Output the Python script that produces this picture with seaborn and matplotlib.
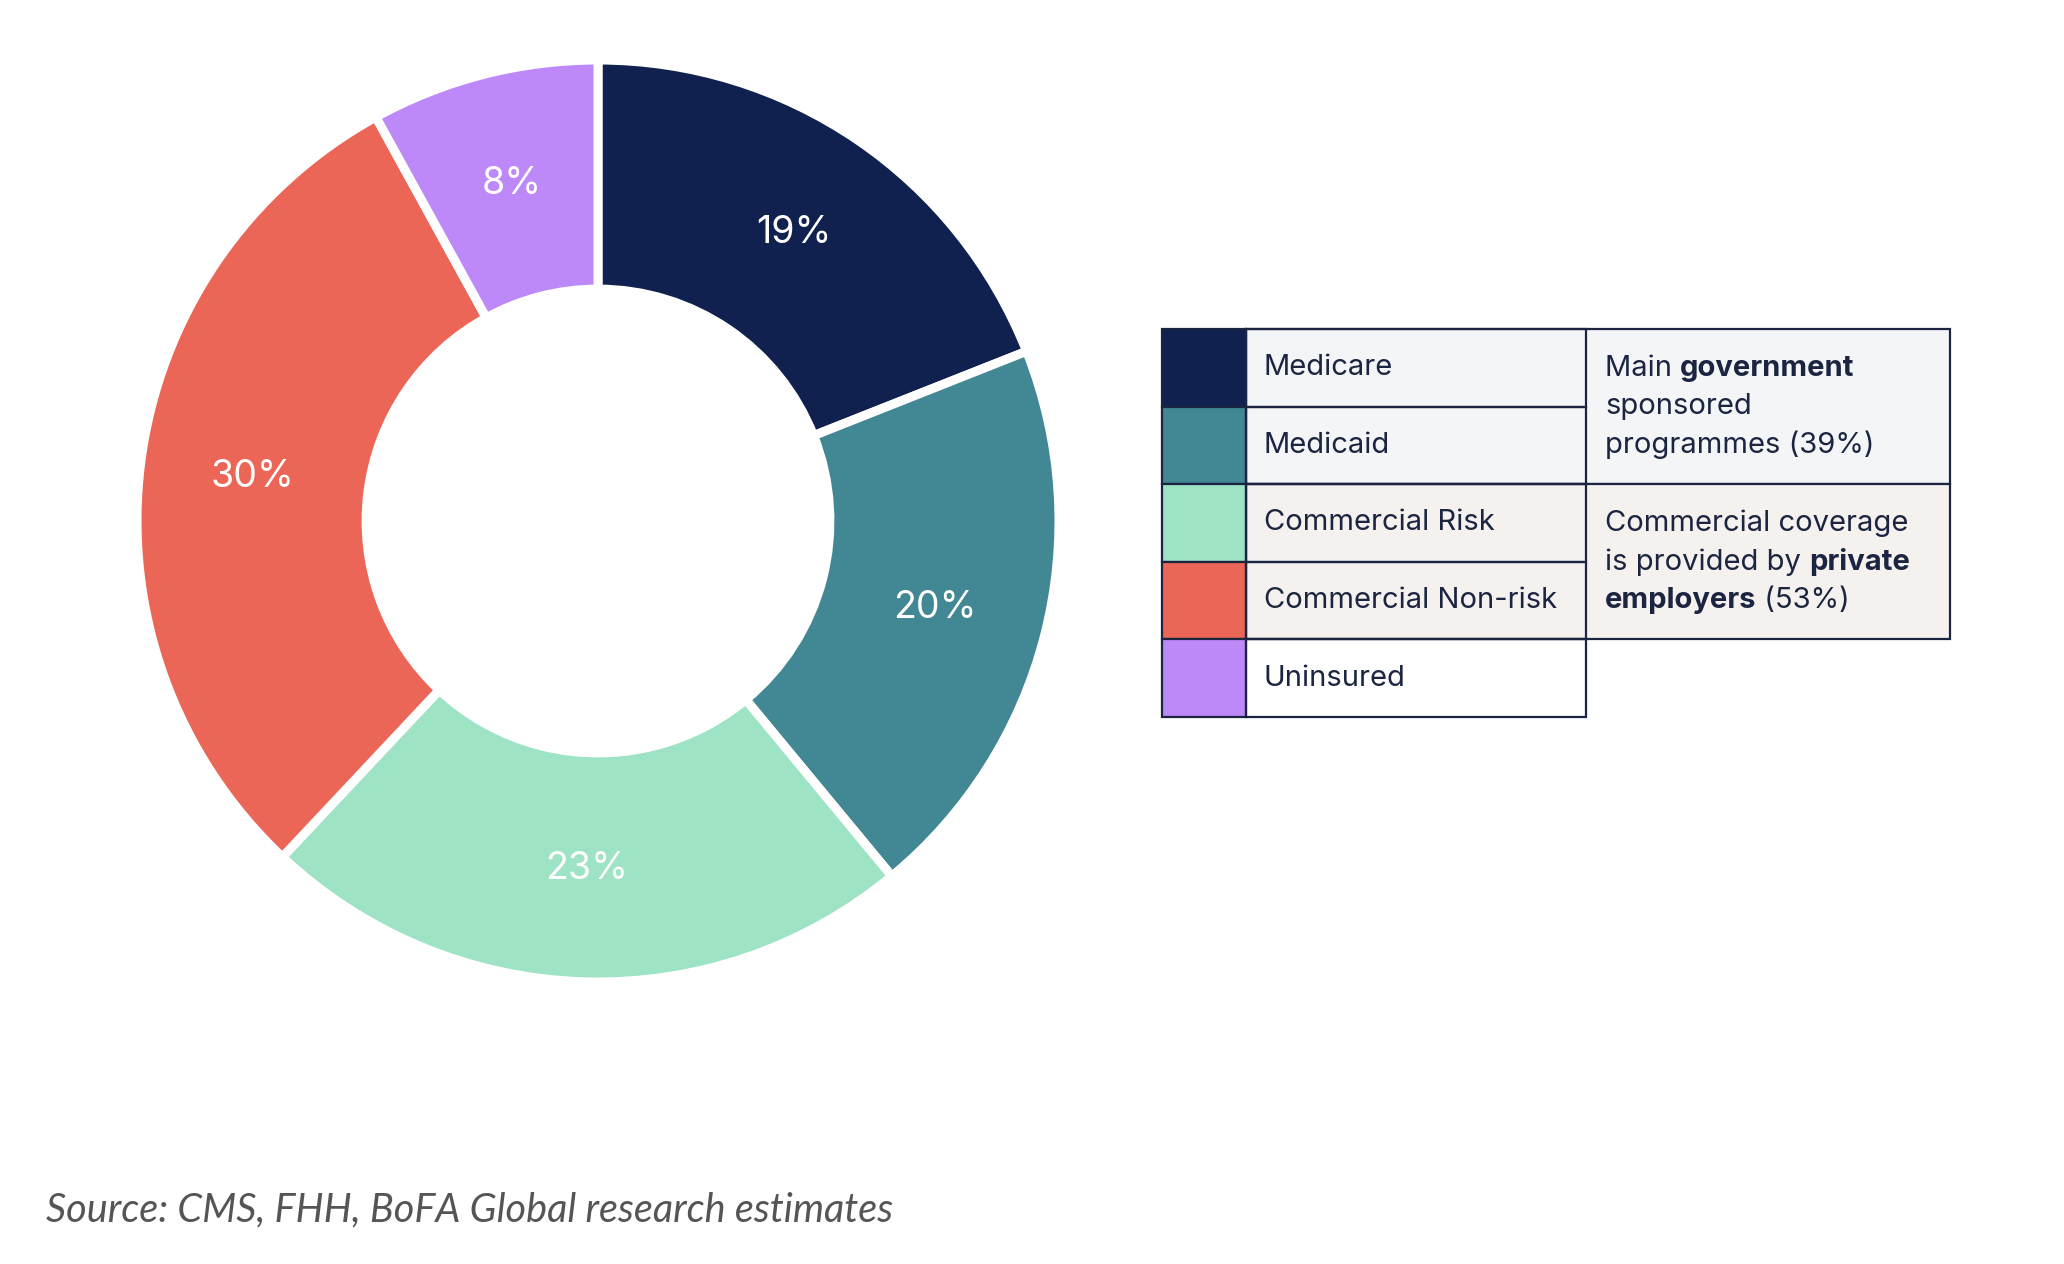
import matplotlib
matplotlib.use("Agg")
import matplotlib.pyplot as plt
import seaborn as sns
from matplotlib.patches import Rectangle

# data
segments = ["Medicare", "Medicaid", "Commercial Risk", "Commercial Non-risk", "Uninsured"]
shares = [19, 20, 23, 30, 8]
seg_colors = ["#10214F", "#418794", "#9DE3C4", "#EB6657", "#BD88F7"]
group_rows = [(0, 2), (2, 4)]
group_bg = ["#F3F5F7", "#F4F1EE"]
source = "Source: CMS, FHH, BoFA Global research estimates"

sns.set_theme(style="white")
plt.rcParams["font.family"] = ["Inter", "DejaVu Sans"]
ink = "#1B2541"

W, H = 2064, 1264
fig = plt.figure(figsize=(W / 100, H / 100), dpi=100)

# donut
cx, cy, r = 598, 521, 461
ax = fig.add_axes([(cx - r) / W, (H - cy - r) / H, 2 * r / W, 2 * r / H])
palette = sns.color_palette(seg_colors)
wedges, _, autotexts = ax.pie(
    shares, colors=palette, startangle=90, counterclock=False,
    autopct=lambda p: f"{p:.0f}%", pctdistance=0.755, radius=1,
    wedgeprops=dict(width=0.497, edgecolor="white", linewidth=6.5),
    textprops=dict(color="white", fontsize=27))
ax.set_xlim(-1, 1)
ax.set_ylim(-1, 1)
ax.set_aspect("equal")
ax.axis("off")

# table / legend on an overlay in pixel space
ov = fig.add_axes([0, 0, 1, 1])
ov.set_xlim(0, W)
ov.set_ylim(H, 0)
ov.axis("off")

x0, x1, x2, x3 = 1162, 1246, 1586, 1950
top, rh = 329, 77.6
lw = 1.6
fs = 21

for (a, b), bg in zip(group_rows, group_bg):
    ov.add_patch(Rectangle((x1, top + a * rh), x3 - x1, (b - a) * rh,
                           facecolor=bg, edgecolor=ink, linewidth=lw))

for i, (name, col) in enumerate(zip(segments, seg_colors)):
    y = top + i * rh
    ov.add_patch(Rectangle((x0, y), x1 - x0, rh, facecolor=col, edgecolor=ink, linewidth=lw))
    ov.add_patch(Rectangle((x1, y), x2 - x1, rh, facecolor="none", edgecolor=ink, linewidth=lw))
    ov.text(1264, y + rh / 2, name, fontsize=fs, color=ink, va="center", ha="left")


def rich_line(x, y, parts):
    prev = None
    for txt, bold in parts:
        w = "bold" if bold else "normal"
        if prev is None:
            prev = ov.text(x, y, txt, fontsize=fs, color=ink, va="center", ha="left", fontweight=w)
        else:
            prev = ov.annotate(txt, xy=(1, 0.5), xycoords=prev, fontsize=fs, color=ink,
                               va="center", ha="left", fontweight=w)


gap = 38.5
c1 = top + rh
rich_line(1605, c1 - gap, [("Main ", False), ("government", True)])
rich_line(1605, c1, [("sponsored", False)])
rich_line(1605, c1 + gap, [("programmes (39%)", False)])

c2 = top + 3 * rh
rich_line(1605, c2 - gap, [("Commercial coverage", False)])
rich_line(1605, c2, [("is provided by ", False), ("private", True)])
rich_line(1605, c2 + gap, [("employers", True), (" (53%)", False)])

ov.text(46, 1210, source, fontsize=28.5, color="#555555", style="italic", va="center", ha="left",
        family=["Lato", "DejaVu Sans"])

fig.savefig("out.png", dpi=100, facecolor="white")
